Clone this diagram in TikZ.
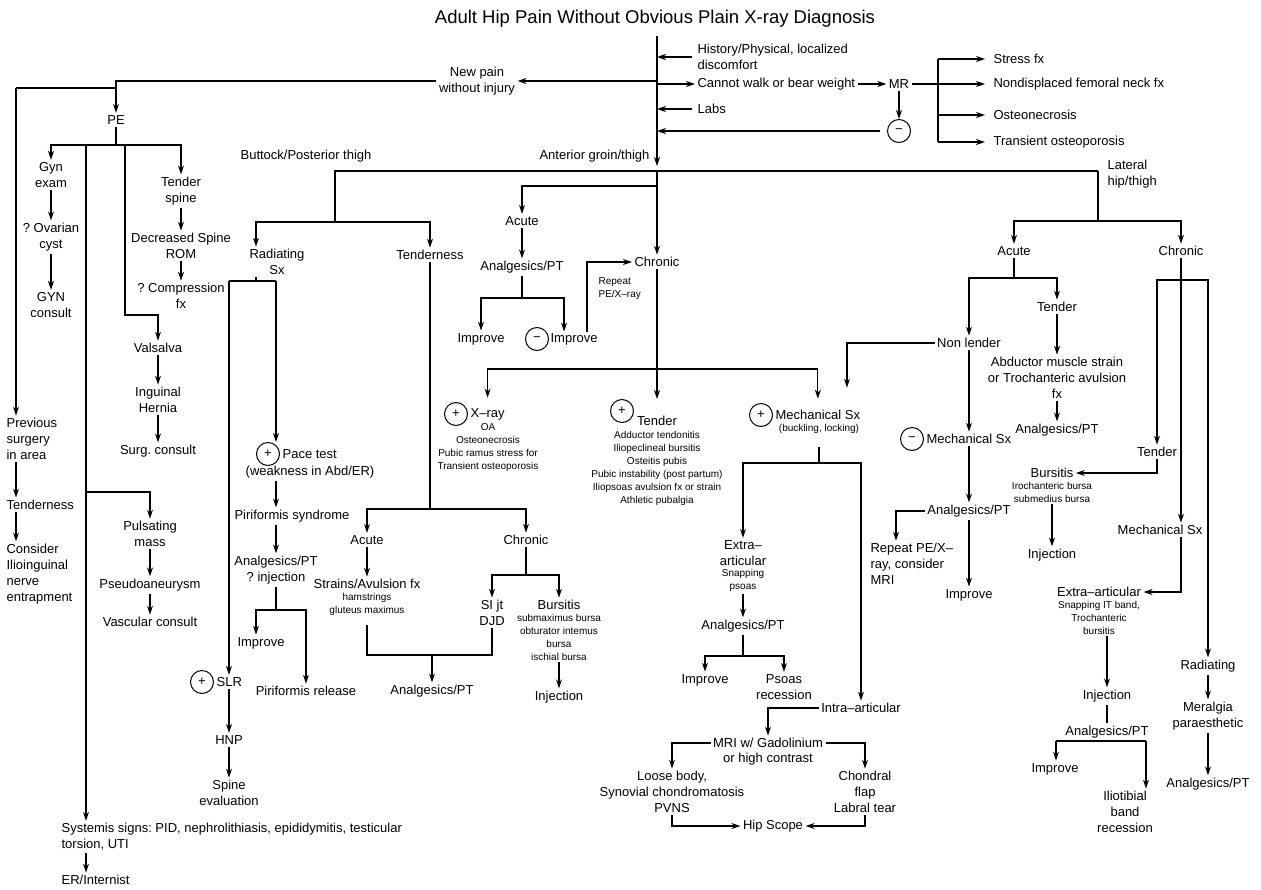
\documentclass[tikz,border=0pt]{standalone}
\usepackage{fontspec}
\setmainfont{Liberation Sans}
\usetikzlibrary{arrows.meta,positioning}
\begin{document}
\frenchspacing
\begin{tikzpicture}[x=1pt,y=-1pt,line width=1.2pt,
  txt/.style={align=center,inner sep=2pt,font=\fontsize{13}{16}\selectfont},
  sml/.style={align=center,inner sep=1pt,font=\fontsize{10}{13}\selectfont},
  sgn/.style={draw,circle,line width=1pt,minimum size=23pt,inner sep=0pt,font=\fontsize{13}{13}\selectfont},
  arr/.style={-{Stealth[length=9pt,width=6pt]}}]
\useasboundingbox (0,0) rectangle (1261,889);

\node[font=\fontsize{18.5}{22}\selectfont] (title) at (655,19) {Adult Hip Pain Without Obvious Plain X-ray Diagnosis};

\coordinate (top) at (657,36);
\coordinate (ant) at (657,171);
\node[txt,anchor=west,align=left] (hist) at (695,57) {History/Physical, localized\\discomfort};
\node[txt,anchor=west] (walk) at (695,84) {Cannot walk or bear weight};
\node[txt,anchor=west] (labs) at (695,109) {Labs};
\node[txt] (newpain) at (477,81) {New pain\\without injury};
\node[txt] (mr) at (899,84) {MR};
\node[sgn] (neg1) at (899,131) {−};
\node[txt,anchor=west] (stress) at (991,59) {Stress fx};
\node[txt,anchor=west] (neck) at (991,84) {Nondisplaced femoral neck fx};
\node[txt,anchor=west] (osteo) at (991,115) {Osteonecrosis};
\node[txt,anchor=west] (trans) at (991,142) {Transient osteoporosis};
\coordinate (brk) at (938,0);

\draw[arr,shorten >=5pt] (top) -- (ant);
\draw[arr,shorten <=3pt] (hist.west) -- (hist.west -| top);
\draw[arr] (top |- walk.west) -- (walk.west);
\draw[arr] (newpain.east -| top) -- (newpain.east);
\draw[arr,shorten <=3pt] (labs.west) -- (labs.west -| top);
\draw[arr] (walk) -- (mr);
\draw[arr] (mr) -- (neg1);
\draw[arr,shorten <=7pt] (neg1) -- (neg1 -| top);
\draw (stress.west -| brk) -- (trans.west -| brk);
\draw[arr,shorten >=6pt] (mr) -- (neck);
\draw[arr,shorten >=6pt] (stress.west -| brk) -- (stress.west);
\draw[arr,shorten >=6pt] (osteo.west -| brk) -- (osteo.west);
\draw[arr,shorten >=6pt] (trans.west -| brk) -- (trans.west);

\node[txt] (pe) at (116,120) {PE};
\coordinate (pej) at (116,145);
\coordinate (prevj) at (116,88);
\coordinate (colA) at (16,88);
\coordinate (colB) at (86,145);
\coordinate (colC) at (125,145);
\coordinate (valj) at (125,315);
\coordinate (pulsj) at (86,492);
\node[txt] (gyn) at (51,175) {Gyn\\exam};
\node[txt] (ovar) at (51,237) {? Ovarian\\cyst};
\node[txt] (gync) at (51,305) {GYN\\consult};
\node[txt] (tspine) at (181,191) {Tender\\spine};
\node[txt] (dspine) at (181,246) {Decreased Spine\\ROM};
\node[txt] (comp) at (181,296) {? Compression\\fx};
\node[txt] (vals) at (158,348) {Valsalva};
\node[txt] (hern) at (158,400) {Inguinal\\Hernia};
\node[txt] (surg) at (158,451) {Surg. consult};
\node[txt] (puls) at (150,534) {Pulsating\\mass};
\node[txt] (pseudo) at (150,585) {Pseudoaneurysm};
\node[txt] (vasc) at (150,622) {Vascular consult};
\node[txt,anchor=west,align=left] (prev) at (4,439) {Previous\\surgery\\in area};
\node[txt,anchor=west] (tendl) at (4,505) {Tenderness};
\node[txt,anchor=west,align=left] (consid) at (4,574) {Consider\\Ilioinguinal\\nerve\\entrapment};
\node[txt,anchor=west,align=left] (sys) at (59,837) {Systemis signs: PID, nephrolithiasis, epididymitis, testicular\\torsion, UTI};
\node[txt,anchor=west] (er) at (59,880) {ER/Internist};

\draw[arr] (newpain.west) -| (pe);
\draw (prevj) -- (colA);
\draw[arr] (colA) -- (colA |- prev.north);
\draw[arr] (colA |- prev.south) -- (colA |- tendl.north);
\draw[arr] (colA |- tendl.south) -- (colA |- consid.north);
\draw (pe) -- (pej);
\draw[arr] (pej) -| (gyn);
\draw[arr] (pej) -| (tspine);
\draw[arr] (gyn) -- (ovar);
\draw[arr] (ovar) -- (gync);
\draw[arr] (tspine) -- (dspine);
\draw[arr] (dspine) -- (comp);
\draw[arr] (colC) -- (valj) -| (vals);
\draw[arr] (vals) -- (hern);
\draw[arr] (hern) -- (surg);
\draw[arr] (colB) -- (colB |- sys.north);
\draw[arr] (pulsj) -| (puls);
\draw[arr] (puls) -- (pseudo);
\draw[arr] (pseudo) -- (vasc);
\draw[arr] (colB |- sys.south) -- (colB |- er.north);

\node[txt] (butt) at (306,156) {Buttock/Posterior thigh};
\node[txt,anchor=east] (antg) at (652,156) {Anterior groin/thigh};
\node[txt,anchor=west,align=left] (lat) at (1105,174) {Lateral\\hip/thigh};
\coordinate (bl) at (335,171);
\coordinate (br) at (1098,171);
\coordinate (bj) at (335,222);
\draw (br) -- (bl) -- (bj);
\node[txt] (radsx) at (277,262) {Radiating\\Sx};
\node[txt] (tend1) at (430,255) {Tenderness};
\draw[arr] (bj) -| ([xshift=-21pt]radsx.north);
\draw[arr] (bj) -| (tend1);

\coordinate (rjl) at (229,281);
\coordinate (rjr) at (276,281);
\draw ([xshift=-21pt]radsx.south) -- ([xshift=-21pt]radsx.south |- rjl);
\draw (rjl) -- (rjr);
\node[sgn] (pos1) at (268,454) {+};
\node[txt,anchor=west] (pace) at (pos1.east) {Pace test};
\node[txt] (weak) at (310,472) {(weakness in Abd/ER)};
\node[txt] (piri) at (292,516) {Piriformis syndrome};
\node[txt] (an1) at (276,570) {Analgesics/PT\\? injection};
\coordinate (a1j) at (276,610);
\node[txt] (impr1) at (261,643) {Improve};
\node[txt] (pirel) at (306,691) {Piriformis release};
\node[sgn] (pos2) at (202,682) {+};
\node[txt,anchor=west] (slr) at (pos2.east) {SLR};
\node[txt] (hnp) at (229,740) {HNP};
\node[txt] (spine) at (229,793) {Spine\\evaluation};
\draw[arr] (rjr) -- (rjr |- pos1.north);
\draw[arr] (rjr |- weak.south) -- (rjr |- piri.north);
\draw[arr] (rjr |- piri.south) -- (an1);
\draw (an1) -- (a1j);
\draw[arr] (a1j) -| ([xshift=-5pt]impr1.north);
\draw[arr] (a1j) -| (pirel);
\draw[arr] (rjl) -- (rjl |- slr.north);
\draw[arr] (rjl |- slr.south) -- (hnp);
\draw[arr] (hnp) -- (spine);

\coordinate (tj) at (430,509);
\node[txt] (ac2) at (367,540) {Acute};
\node[txt] (ch2) at (526,540) {Chronic};
\node[txt] (strn) at (367,584) {Strains/Avulsion fx};
\node[sml,below=0pt of strn] (strnx) {hamstrings\\gluteus maximus};
\node[txt] (sijt) at (492,613) {SI jt\\DJD};
\node[txt] (burs1) at (559,605) {Bursitis};
\node[sml,below=0pt of burs1] (burs1x) {submaximus bursa\\obturator intemus\\bursa\\ischial bursa};
\node[txt] (inj1) at (559,697) {Injection};
\node[txt] (an2) at (432,691) {Analgesics/PT};
\coordinate (cj) at (526,575);
\coordinate (sj) at (432,655);
\draw (tend1) -- (tj);
\draw[arr] (tj) -| (ac2);
\draw[arr] (tj) -| (ch2);
\draw[arr] (ac2) -- (strn);
\draw (ch2) -- (cj);
\draw[arr] (cj) -| (sijt);
\draw[arr] (cj) -| (burs1);
\draw[arr] (burs1x) -- (inj1);
\draw[shorten <=8pt] (strnx.south) |- (sj);
\draw (sijt.south) |- (sj);
\draw[arr] (sj) -- (an2);

\coordinate (acj) at (657,186);
\node[txt] (ac1) at (522,221) {Acute};
\node[txt] (an3) at (522,267) {Analgesics/PT};
\coordinate (a3j) at (522,298);
\node[txt] (impr2) at (481,339) {Improve};
\node[sgn] (neg2) at (537,339) {−};
\node[txt,anchor=west,inner sep=1pt] (impr3) at (neg2.east) {Improve};
\node[txt] (chr1) at (657,262) {Chronic};
\node[sml,anchor=west,align=left] (rep1) at (597,289) {Repeat\\PE/X–ray};
\draw[arr] (acj) -| (ac1);
\draw[arr] (ant) -- (chr1);
\draw[arr] (ac1) -- (an3);
\draw (an3) -- (a3j);
\draw[arr] (a3j) -| (impr2);
\draw[arr] (a3j) -| ([xshift=-10pt]impr3.north);
\draw[arr] ([xshift=13pt]impr3.north) |- (chr1.west);

\coordinate (c1j) at (657,369);
\node[sgn] (pos3) at (456,414) {+};
\node[txt,anchor=west] (xr) at (pos3.east) {X–ray};
\node[sml] (xrx) at (488,448) {OA\\Osteonecrosis\\Pubic ramus stress for\\Transient osteoporosis};
\node[sgn] (pos4) at (622,411) {+};
\node[txt] (tdr) at (657,421) {Tender};
\node[sml] (tdrx) at (657,468.5) {Adductor tendonitis\\Iliopeclineal bursitis\\Osteitis pubis\\Pubic instability (post partum)\\Iliopsoas avulsion fx or strain\\Athletic pubalgia};
\node[sgn] (pos5) at (761,415) {+};
\node[txt,anchor=west] (mech) at (pos5.east) {Mechanical Sx};
\node[sml] (buck) at (819,429) {(buckling, locking)};
\draw (chr1) -- (c1j);
\draw[arr,shorten >=8pt] (c1j) -| (xr);
\draw[arr] (c1j) -- (c1j |- pos4.north);
\draw[arr,shorten >=9pt] (c1j) -| (mech);

\coordinate (mj) at (819,463);
\node[txt] (extra) at (743,553) {Extra–\\articular};
\node[sml,below=0pt of extra] (extrax) {Snapping\\psoas};
\node[txt] (an4) at (743,626) {Analgesics/PT};
\coordinate (a4j) at (743,656);
\node[txt] (impr4) at (705,680) {Improve};
\node[txt] (psoas) at (784,687) {Psoas\\recession};
\node[txt] (intra) at (861,708) {Intra–articular};
\node[txt] (mri) at (768,743) {MRI w/ Gadolinium};
\node[txt] (mri2) at (768,759) {or high contrast};
\node[txt] (loose) at (672,792) {Loose body,\\Synovial chondromatosis\\PVNS};
\node[txt] (chond) at (865,792) {Chondral\\flap\\Labral tear};
\node[txt] (hip) at (773,826) {Hip Scope};
\draw[shorten <=12pt] (buck.south) -- (mj);
\draw[arr] (mj) -| (extra);
\draw[arr] (mj) -| (intra);
\draw[arr] (extrax) -- (an4);
\draw (an4) -- (a4j);
\draw[arr] (a4j) -| (impr4);
\draw[arr] (a4j) -| (psoas);
\draw[arr] (intra.west) -| (mri);
\draw[arr] (mri.west) -| (loose);
\draw[arr] (mri.east) -| (chond);
\draw[arr] (loose.south) |- (hip.west);
\draw[arr] (chond.south) |- (hip.east);

\coordinate (lj) at (1098,221);
\node[txt] (ac3) at (1014,251) {Acute};
\node[txt] (ch3) at (1181,251) {Chronic};
\coordinate (a5j) at (1014,278);
\node[txt] (nl) at (969,343) {Non lender};
\node[txt] (tend3) at (1057,307) {Tender};
\node[txt] (abd) at (1057,378) {Abductor muscle strain\\or Trochanteric avulsion\\fx};
\node[txt] (an5) at (1057,430) {Analgesics/PT};
\node[sgn] (neg3) at (912,439) {−};
\node[txt,anchor=west] (mech2) at (neg3.east) {Mechanical Sx};
\node[txt] (an6) at (969,511) {Analgesics/PT};
\node[txt,anchor=west,align=left] (rep2) at (868,564) {Repeat PE/X–\\ray, consider\\MRI};
\node[txt] (impr5) at (969,595) {Improve};
\coordinate (nlx) at (847,343);
\draw (br) -- (lj);
\draw[arr] (lj) -| (ac3);
\draw[arr] (lj) -| (ch3);
\draw (ac3) -- (a5j);
\draw[arr] (a5j) -| (nl);
\draw[arr] (a5j) -| (tend3);
\draw[arr] (tend3) -- (abd);
\draw[arr] (abd) -- (an5);
\draw[arr,shorten >=20pt] (nl.west) -- (nlx) -- (nlx |- mech.north);
\draw[arr] (nl) -- (nl |- mech2.north);
\draw[arr] (nl |- mech2.south) -- (an6);
\draw[arr] (an6.west) -| ([xshift=28pt]rep2.north west);
\draw[arr] (an6) -- (impr5);

\coordinate (c3j) at (1181,280);
\node[txt] (tend4) at (1157,452) {Tender};
\node[txt] (burs2) at (1052,473) {Bursitis};
\node[sml,below=0pt of burs2] (burs2x) {Irochanteric bursa\\submedius bursa};
\node[txt] (inj2) at (1052,555) {Injection};
\node[txt] (mech3) at (1160,530) {Mechanical Sx};
\node[txt] (extra2) at (1099,592) {Extra–articular};
\node[sml,below=0pt of extra2] (extra2x) {Snapping IT band,\\Trochanteric\\bursitis};
\node[txt] (inj3) at (1107,696) {Injection};
\node[txt] (an7) at (1107,732) {Analgesics/PT};
\coordinate (a7l) at (1056,741);
\coordinate (a7r) at (1146,741);
\node[txt] (impr6) at (1055,769) {Improve};
\node[txt] (ilio) at (1125,812) {Iliotibial\\band\\recession};
\node[txt] (rad3) at (1208,666) {Radiating};
\node[txt] (mer) at (1208,716) {Meralgia\\paraesthetic};
\node[txt] (an8) at (1208,784) {Analgesics/PT};
\draw[arr] (ch3) -- (ch3 |- mech3.north);
\draw[arr] (c3j) -| (tend4);
\draw[arr] (c3j) -| (rad3);
\draw[arr] (tend4.south) |- (burs2.east);
\draw[arr] (burs2x) -- (inj2);
\draw[arr] (ch3 |- mech3.south) |- (extra2.east);
\draw[arr] (inj3 |- extra2x.south) -- (inj3);
\draw (inj3) -- (an7);
\draw (a7l) -- (a7r);
\draw[arr] (a7l) -- (a7l |- impr6.north);
\draw[arr] (a7r) -- (a7r |- ilio.north);
\draw[arr] (rad3) -- (mer);
\draw[arr] (mer) -- (an8);
\end{tikzpicture}
\end{document}
